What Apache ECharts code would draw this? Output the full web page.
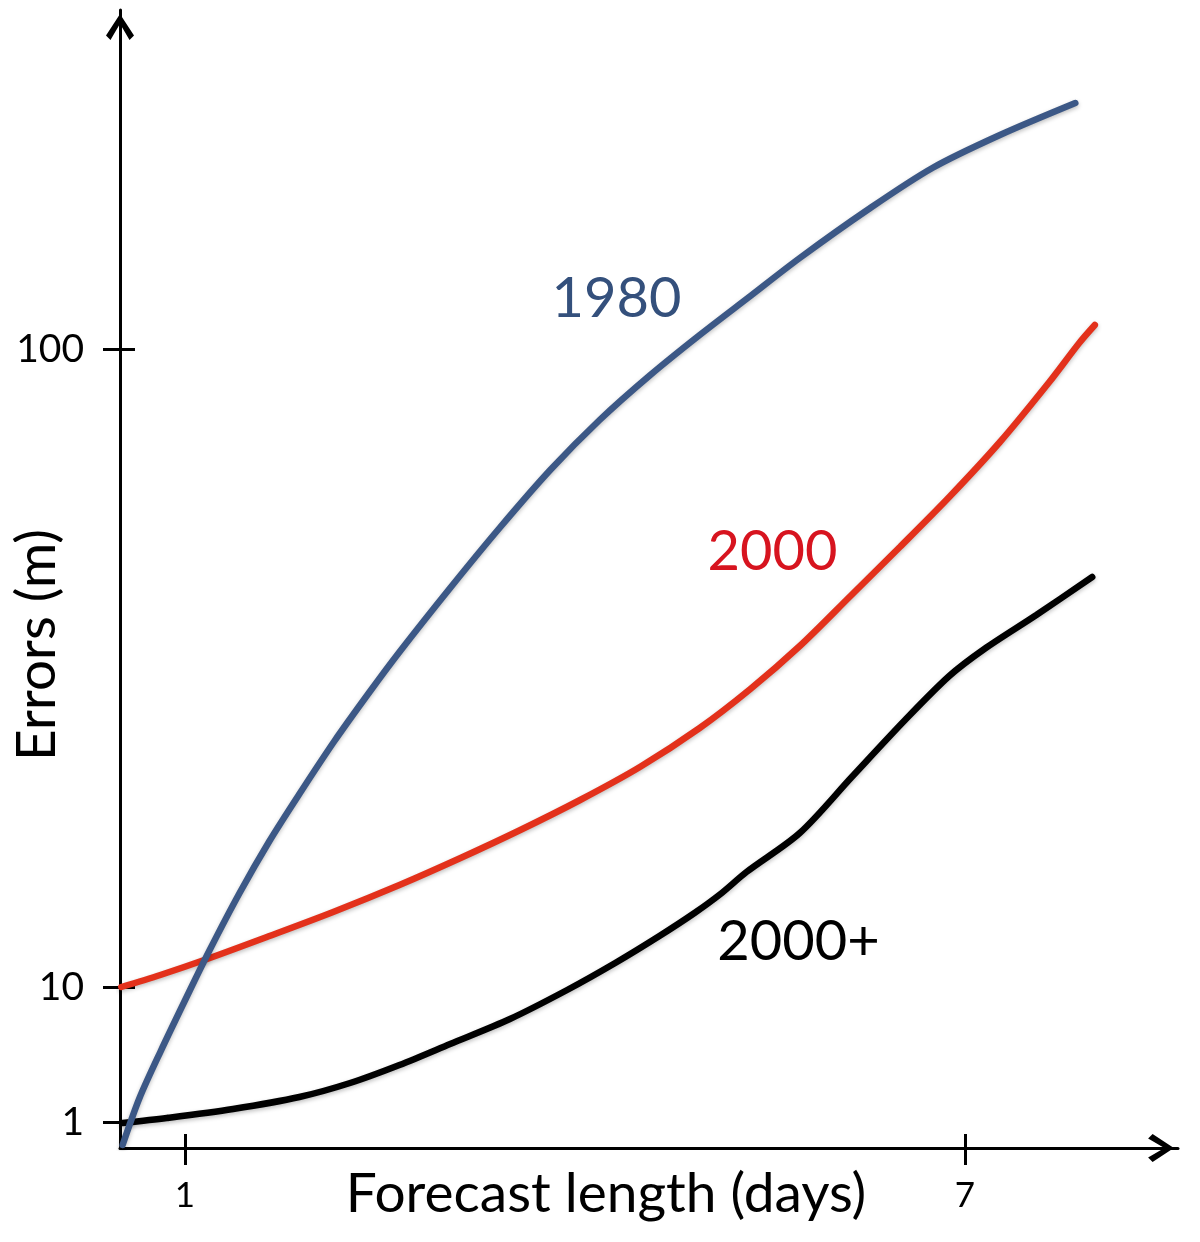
<!DOCTYPE html>
<html>
<head>
<meta charset="utf-8">
<title>Forecast errors</title>
<script src="https://cdn.jsdelivr.net/npm/echarts@6/dist/echarts.min.js"></script>
<style>
  html, body { margin: 0; padding: 0; background: #fff; }
  #chart { width: 1200px; height: 1242px; }
</style>
</head>
<body>
<div id="chart"></div>
<script>
// the y axis of the original is a sketch, not a true log scale: values are
// positions along the axis, the ticks 1 / 10 / 100 sit where they were drawn
const yTickPos = [26, 161, 799];
const yTickLabels = ['1', '10', '100'];
const xTicks = [1, 7];

const days1980 = [0.52, 0.65, 0.81, 1.02, 1.19, 1.42, 1.65, 1.88, 2.15, 2.42, 2.65, 3.04, 3.42, 3.81, 4.19, 4.58, 4.96, 5.35, 5.73, 6.25, 6.75, 7.27, 7.85];
const err1980 = [3, 50, 96, 153, 198, 255, 307, 354, 407, 456, 496, 560, 620, 678, 728, 773, 813, 852, 890, 938, 980, 1013, 1045];

const days2000 = [0.51, 0.81, 1.17, 1.63, 2.14, 2.65, 3.12, 3.58, 4.04, 4.50, 4.96, 5.35, 5.73, 6.12, 6.50, 6.88, 7.27, 7.65, 7.88, 8.00];
const err2000 = [161, 173, 189, 211, 236, 263, 290, 318, 348, 381, 420, 459, 502, 552, 601, 651, 706, 766, 805, 823];

const days2000p = [0.52, 0.86, 1.37, 1.88, 2.27, 2.65, 3.04, 3.50, 3.94, 4.31, 4.65, 4.92, 5.12, 5.32, 5.73, 6.13, 6.54, 6.88, 7.15, 7.55, 7.98];
const err2000p = [25, 30, 39, 51, 65, 83, 104, 129, 158, 185, 212, 235, 254, 276, 315, 371, 428, 472, 499, 533, 571];

const seriesNames = ['1980', '2000', '2000+'];
const lineColors = ['#3c5886', '#e3311b', '#000000'];
const textColors = ['#34507c', '#d7141f', '#000000'];
const labelAt = [[4.32, 849], [5.52, 596], [5.72, 206]];

const FONT = 'Lato';
// open chevron, apex up (echarts turns it to follow the axis)
const arrow = 'path://M50,0 L100,76 L84,92 L50,34 L16,92 L0,76 Z';

function pairs(xs, ys) {
  return xs.map(function (x, i) { return [x, ys[i]]; });
}

const allDays = [days1980, days2000, days2000p];
const allErr = [err1980, err2000, err2000p];

let series = seriesNames.map(function (name, i) {
  return {
    name: name,
    type: 'line',
    data: pairs(allDays[i], allErr[i]),
    smooth: 0.3,
    showSymbol: false,
    lineStyle: {
      color: lineColors[i], width: 6.5, cap: 'round',
      shadowColor: 'rgba(0,0,0,0.25)', shadowBlur: 4, shadowOffsetY: 2
    },
    markPoint: {
      silent: true,
      symbol: 'circle',
      symbolSize: 0,
      data: [{ coord: labelAt[i] }],
      label: {
        show: true, position: 'inside', formatter: name,
        fontSize: 56, fontFamily: FONT, color: textColors[i]
      }
    },
    z: 3 - i
  };
});

const axisLineStyle = { color: '#000', width: 3 };

let myChart = echarts.init(document.getElementById('chart'));
let option = {
  animation: false,
  backgroundColor: '#fff',
  grid: { left: 120, right: 22, top: 10, bottom: 94, outerBoundsMode: 'none', containLabel: false },
  xAxis: [
    {
      type: 'value', min: 0.5, max: 8.64,
      axisLine: { lineStyle: axisLineStyle, symbol: ['none', arrow], symbolSize: [28, 34], symbolOffset: [0, -17] },
      axisTick: { show: true, length: 17, lineStyle: axisLineStyle, customValues: xTicks },
      axisLabel: { customValues: xTicks, margin: 30, fontSize: 35, fontFamily: FONT, color: '#000' },
      splitLine: { show: false },
      name: 'Forecast length (days)', nameLocation: 'middle', nameGap: 19, nameMoveOverlap: false,
      nameTextStyle: { fontSize: 55, fontFamily: FONT, color: '#000', padding: [0, 86, 0, 0] }
    },
    {
      // second axis only for the inner half of the crossing ticks
      type: 'value', min: 0.5, max: 8.64, position: 'bottom',
      axisLine: { show: false },
      axisTick: { show: true, inside: true, length: 14, lineStyle: axisLineStyle, customValues: xTicks },
      axisLabel: { show: false },
      splitLine: { show: false }
    }
  ],
  yAxis: [
    {
      type: 'value', min: 0, max: 1138,
      axisLine: { show: true, lineStyle: axisLineStyle, symbol: ['none', arrow], symbolSize: [28, 34], symbolOffset: [0, -17] },
      axisTick: { show: true, length: 17, lineStyle: axisLineStyle, customValues: yTickPos },
      axisLabel: {
        customValues: yTickPos, margin: 36, fontSize: 39, fontFamily: FONT, color: '#000',
        formatter: function (v) { return yTickLabels[yTickPos.indexOf(v)]; }
      },
      splitLine: { show: false },
      name: 'Errors (m)', nameLocation: 'middle', nameGap: 55, nameMoveOverlap: false,
      nameTextStyle: { fontSize: 55, fontFamily: FONT, color: '#000', padding: [0, 132, 0, 0] }
    },
    {
      type: 'value', min: 0, max: 1138, position: 'left',
      axisLine: { show: false },
      axisTick: { show: true, inside: true, length: 15, lineStyle: axisLineStyle, customValues: yTickPos },
      axisLabel: { show: false },
      splitLine: { show: false }
    }
  ],
  series: series
};
myChart.setOption(option);
</script>
</body>
</html>
